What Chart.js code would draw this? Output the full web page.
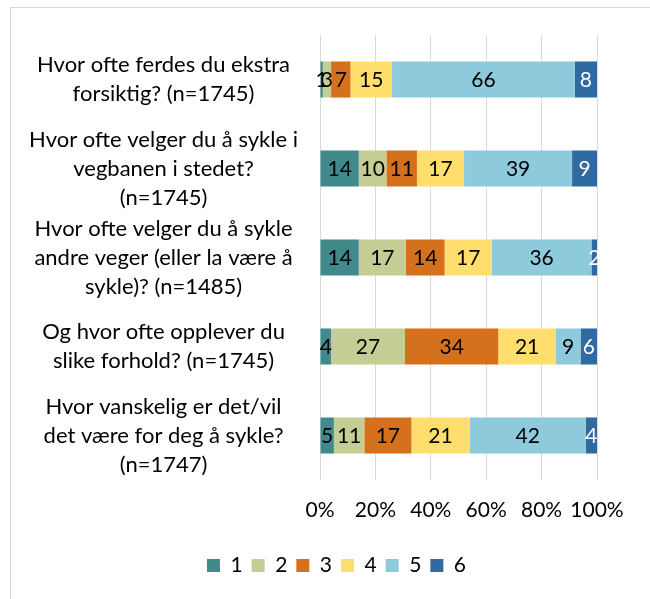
<!DOCTYPE html>
<html>
<head>
<meta charset="utf-8">
<script src="https://cdn.jsdelivr.net/npm/chart.js@4/dist/chart.umd.min.js"></script>
<style>
  html, body { margin: 0; padding: 0; background: #fff; }
  #wrap { width: 650px; height: 599px; position: relative; }
</style>
</head>
<body>
<div id="wrap"><canvas id="c" width="650" height="599"></canvas></div>
<script>
// Survey questions (one stacked bar each), wrapped as they are printed
const questions = [
  ["Hvor ofte ferdes du ekstra", "forsiktig? (n=1745)"],
  ["Hvor ofte velger du å sykle i", "vegbanen i stedet?", "(n=1745)"],
  ["Hvor ofte velger du å sykle", "andre veger (eller la være å", "sykle)? (n=1485)"],
  ["Og hvor ofte opplever du", "slike forhold? (n=1745)"],
  ["Hvor vanskelig er det/vil", "det være for deg å sykle?", "(n=1747)"]
];

// Answer scale 1–6
const scaleNames = ["1", "2", "3", "4", "5", "6"];

// Percent of respondents per answer, one array per answer value (same order as questions)
const answer1 = [1, 14, 14, 4, 5];
const answer2 = [3, 10, 17, 27, 11];
const answer3 = [7, 11, 14, 34, 17];
const answer4 = [15, 17, 17, 21, 21];
const answer5 = [66, 39, 36, 9, 42];
const answer6 = [8, 9, 2, 6, 4];

// Axis ticks
const percentTicks = [0, 20, 40, 60, 80, 100];

const answers = [answer1, answer2, answer3, answer4, answer5, answer6];
const fills = ["#408A8C", "#C4CD94", "#D5711C", "#FFDE6E", "#8DCADC", "#2F6AA0"];
const labelInk = ["#000", "#000", "#000", "#000", "#000", "#fff"];

// 100% stacked: each bar is scaled to its own total (rounded shares may not sum to 100)
const rowTotals = questions.map((_, i) => answers.reduce((s, a) => s + a[i], 0));

const FONT = "Lato, 'Noto Sans', sans-serif";

const datasets = answers.map((vals, k) => ({
  label: scaleNames[k],
  data: vals.map((v, i) => v / rowTotals[i] * 100),
  raw: vals,
  backgroundColor: fills[k],
  borderWidth: 0,
  barPercentage: 0.405,
  categoryPercentage: 1
}));

// Value labels centred in each segment
const segmentLabels = {
  id: "segmentLabels",
  afterDatasetsDraw(chart) {
    const ctx = chart.ctx;
    ctx.save();
    ctx.font = "21px " + FONT;
    ctx.textAlign = "center";
    ctx.textBaseline = "middle";
    chart.data.datasets.forEach((ds, k) => {
      const meta = chart.getDatasetMeta(k);
      meta.data.forEach((bar, i) => {
        const p = bar.getProps(["x", "y", "base"], true);
        ctx.fillStyle = labelInk[k];
        ctx.fillText(String(ds.raw[i]), (p.x + p.base) / 2, p.y + 1);
      });
    });
    ctx.restore();
  }
};

// White page with the thin grey chart frame; legend centred on the whole frame
const frame = {
  id: "frame",
  afterLayout(chart) {
    const lg = chart.legend;
    if (lg) { lg.left += 33; lg.right += 33; }
  },
  beforeDraw(chart) {
    const ctx = chart.ctx;
    ctx.save();
    ctx.fillStyle = "#fff";
    ctx.fillRect(0, 0, chart.width, chart.height);
    ctx.strokeStyle = "#D9D9D9";
    ctx.lineWidth = 1;
    ctx.strokeRect(10.5, 7.5, 700, 700);
    ctx.restore();
  }
};

new Chart(document.getElementById("c"), {
  type: "bar",
  data: { labels: questions, datasets },
  options: {
    indexAxis: "y",
    responsive: false,
    animation: false,
    devicePixelRatio: 1,
    layout: { padding: { left: 10, right: 53, top: 35, bottom: 13 } },
    scales: {
      x: {
        stacked: true,
        min: percentTicks[0],
        max: percentTicks[percentTicks.length - 1],
        afterBuildTicks(scale) { scale.ticks = percentTicks.map(v => ({ value: v })); },
        afterFit(scale) {
          scale.height = 66;
          scale.paddingLeft = 0;
          scale.paddingRight = 0;
        },
        border: { display: false },
        grid: { color: "#D9D9D9", lineWidth: 1, drawTicks: false },
        ticks: {
          padding: 18,
          minRotation: 0,
          maxRotation: 0,
          autoSkip: false,
          color: "#000",
          font: { family: FONT, size: 21, lineHeight: 1.2 },
          callback: v => v + "%"
        }
      },
      y: {
        stacked: true,
        afterFit(scale) {
          scale.width = 310;
          scale.paddingTop = 0;
          scale.paddingBottom = 0;
        },
        border: { display: false },
        grid: { display: false, drawTicks: false },
        ticks: {
          padding: 22,
          crossAlign: "center",
          color: "#000",
          autoSkip: false,
          font: { family: FONT, size: 22, lineHeight: 1.32 }
        }
      }
    },
    plugins: {
      legend: {
        position: "bottom",
        labels: {
          boxWidth: 13,
          boxHeight: 13,
          padding: 9,
          color: "#000",
          font: { family: FONT, size: 21 }
        }
      },
      tooltip: { enabled: false }
    }
  },
  plugins: [frame, segmentLabels]
});
</script>
</body>
</html>
